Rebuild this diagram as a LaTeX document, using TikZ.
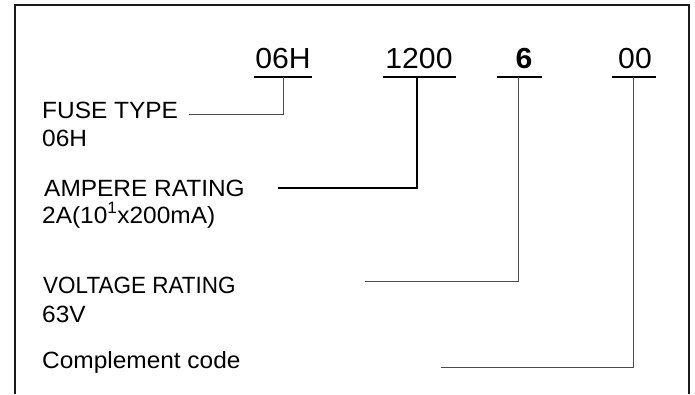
\documentclass[tikz,border=0pt]{standalone}
\usepackage{fontspec}
\setmainfont[FakeStretch=1.04]{Liberation Sans}
\usetikzlibrary{calc,positioning}
\tikzstyle{code}=[font=\fontsize{29}{30}\selectfont,anchor=base,inner sep=0pt]
\tikzstyle{lbl}=[font=\fontsize{23.5}{26}\selectfont,anchor=base west,inner sep=0pt]
\tikzstyle{uline}=[line width=1.5pt,black]
\tikzstyle{conn}=[line width=1pt,black!70]

\begin{document}
\begin{tikzpicture}[x=1pt,y=-1pt]
        \useasboundingbox (0,0) rectangle (695,394);
        % Frame (open at the bottom):
        \draw[line width=2pt,black!90] (15,394) -- (15,5) -- (689,5) -- (689,394);
        % Code line:
        \node (c_type) [code] at (283,68) {06H};
        \node (c_amp) [code] at (419,68) {1200};
        \node (c_volt) [code] at (524,68) {\textbf{6}};
        \node (c_comp) [code] at (635,68) {00};
        % Underlines:
        \coordinate (u_type) at (283,77);
        \coordinate (u_amp) at (417,77);
        \coordinate (u_volt) at (518,77);
        \coordinate (u_comp) at (633,77);
        \draw[uline] (254,77) -- (312,77);
        \draw[uline] (383,77) -- (456,77);
        \draw[uline] (497,77) -- (542,77);
        \draw[uline] (612,77) -- (656,77);
        % Labels:
        \node (l_type) [lbl] at (42,118) {FUSE TYPE};
        \node (v_type) [lbl] at (42,146) {06H};
        \node (l_amp) [lbl] at (44,196) {AMPERE RATING};
        \node (v_amp) [lbl] at (42,223) {2A(10\textsuperscript{1}x200mA)};
        \node (l_volt) [lbl] at (43,293) {\scalebox{0.92}[1]{VOLTAGE RATING}};
        \node (v_volt) [lbl] at (42,322) {63V};
        \node (l_comp) [lbl] at (42,368) {Complement code};
        % Free ends of the leaders:
        \coordinate (e_type) at (189,114);
        \coordinate (e_amp) at (278,188);
        \coordinate (e_volt) at (365,281);
        \coordinate (e_comp) at (441,367);

        \draw[conn] (u_type) |- (e_type);
        \draw[conn,line width=1.6pt,black] (u_amp) |- (e_amp);
        \draw[conn] (u_volt) |- (e_volt);
        \draw[conn] (u_comp) |- (e_comp);
      \end{tikzpicture}
\end{document}
